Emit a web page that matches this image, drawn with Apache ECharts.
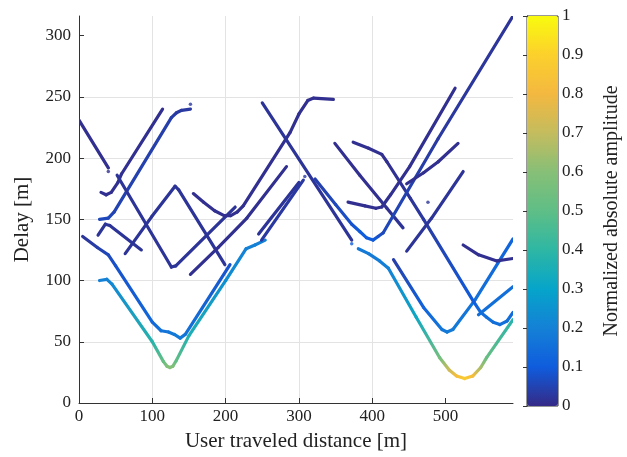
<!DOCTYPE html>
<html>
<head>
<meta charset="utf-8">
<script src="https://cdn.jsdelivr.net/npm/echarts@6/dist/echarts.min.js"></script>
<style>
html, body { margin: 0; padding: 0; background: #fff; }
#chart { width: 627px; height: 457px; }
</style>
</head>
<body>
<div id="chart"></div>
<script>
// tracks: [distance (m), delay (m), normalized amplitude]
var trackA = [[28,100,0.2],[38,101,0.2],[45,97,0.22],[100,50,0.38],[115,34,0.52],[120,30,0.58],[124,29,0.6],[128,30,0.58],[133,35,0.5],[150,55,0.36],[200,100,0.24],[228,126,0.2],[240,129,0.2],[254,133,0.2]];
var trackB = [[5,136,0.02],[25,127,0.04],[40,121,0.06],[50,112,0.08],[100,66,0.13],[112,59,0.16],[122,58,0.17],[130,56,0.18],[138,53,0.18],[145,56,0.16],[206,113,0.08]];
var trackD = [[0,231,0.01],[40,192,0.01]];
var trackE = [[30,172,0.01],[37,170,0.01],[44,172,0.01],[53,180,0.01],[58,187,0.01],[114,240,0.01]];
var trackF = [[28,150,0.06],[40,151,0.06],[48,156,0.05],[126,233,0.04],[133,237,0.03],[140,239,0.03],[152,240,0.03]];
var trackI = [[26,137,0.02],[36,146,0.02],[42,145,0.02],[85,125,0.02]];
var trackG = [[63,122,0.02],[99,152,0.02],[131,177,0.02],[136,174,0.02],[199,113,0.02]];
var trackH = [[52,186,0.02],[126,111,0.02],[132,112,0.02],[213,160,0.02]];
var trackC = [[152,105,0.01],[190,127,0.01],[229,151,0.01],[283,193,0.01]];
var trackJ = [[156,171,0.01],[170,164,0.01],[185,157,0.01],[198,153,0.01],[207,153,0.01],[216,156,0.01],[224,161,0.01],[288,221,0.01],[300,236,0.01],[312,247,0.01],[320,249,0.01],[347,248,0.01]];
var trackL = [[250,245,0.02],[372,133,0.02]];
var trackK1 = [[245,138,0.02],[300,180,0.02]];
var trackK2 = [[249,133,0.03],[306,182,0.03]];
var trackA2 = [[381,126,0.18],[395,122,0.18],[410,116,0.19],[422,110,0.2],[460,70,0.32],[492,37,0.55],[505,27,0.72],[515,22,0.82],[526,20,0.88],[537,22,0.82],[548,29,0.65],[556,37,0.52],[592,68,0.38]];
var trackV2 = [[429,117,0.04],[470,78,0.12],[495,60,0.17],[502,58,0.18],[510,60,0.18],[540,84,0.16],[592,134,0.12]];
var trackW1 = [[374,213,0.01],[395,208,0.01],[413,203,0.01],[420,197,0.01],[452,167,0.02],[470,150,0.03],[538,83,0.1],[548,74,0.14],[556,70,0.15],[565,66,0.15],[574,64,0.15],[584,67,0.15],[592,74,0.14]];
var trackW2 = [[545,72,0.15],[592,95,0.15]];
var trackU3 = [[524,129,0.01],[545,121,0.01],[570,116,0.01],[592,118,0.01]];
var trackP = [[349,212,0.01],[383,186,0.01],[420,159,0.01],[442,143,0.02]];
var trackN1 = [[322,183,0.04],[350,162,0.06],[372,146,0.08],[383,140,0.1],[392,135,0.1],[401,133,0.1],[408,136,0.08],[415,139,0.06],[490,216,0.03],[592,316,0.02]];
var trackN2 = [[367,164,0.01],[390,161,0.01],[405,159,0.01],[413,160,0.01],[425,170,0.01],[451,193,0.01],[513,257,0.01]];
var trackT = [[447,179,0.01],[470,188,0.01],[490,197,0.01],[517,212,0.01]];
var trackY = [[447,124,0.02],[481,151,0.02],[524,189,0.02]];
var dots = [[40,189,0.01],[152,244,0.03],[308,185,0.03],[372,130,0.1],[476,164,0.02]];

var tracks = [trackA, trackB, trackD, trackE, trackF, trackI, trackG, trackH, trackC, trackJ, trackL, trackK1, trackK2,
    trackA2, trackV2, trackW1, trackW2, trackU3, trackP, trackN1, trackN2, trackT, trackY];

var xTicks = [0, 100, 200, 300, 400, 500];
var yTicks = [0, 50, 100, 150, 200, 250, 300];

// parula-like colour stops (0 .. 1 in steps of 0.1)
var parula = ['#352a87', '#0f5cdd', '#1481d6', '#06a4ca', '#2eb7a4', '#5fbe86', '#87bf77', '#c4bc5e', '#f3b840', '#fcd02c', '#f9fb0e'];

function hexRgb(h) {
    return [parseInt(h.substr(1, 2), 16), parseInt(h.substr(3, 2), 16), parseInt(h.substr(5, 2), 16)];
}
function ampColor(a) {
    var t = Math.max(0, Math.min(1, a)) * (parula.length - 1);
    var i = Math.min(Math.floor(t), parula.length - 2);
    var f = t - i;
    var c0 = hexRgb(parula[i]), c1 = hexRgb(parula[i + 1]);
    return 'rgb(' + Math.round(c0[0] + (c1[0] - c0[0]) * f) + ',' + Math.round(c0[1] + (c1[1] - c0[1]) * f) + ',' + Math.round(c0[2] + (c1[2] - c0[2]) * f) + ')';
}

// flatten tracks, 4th value = track index
var flat = [];
tracks.forEach(function (t, k) {
    t.forEach(function (p) { flat.push([p[0], p[1], p[2], k]); });
});

var font = 'Liberation Serif';
var chartDom = document.getElementById('chart');
var myChart = echarts.init(chartDom);
var option;

option = {
    animation: false,
    grid: [
        { left: 79, top: 16, width: 434, height: 390 },
        { left: 527, top: 16, width: 31, height: 390, show: true, borderColor: '#333', borderWidth: 1, backgroundColor: 'transparent' }
    ],
    xAxis: [
        {
            gridIndex: 0, type: 'value', min: 0, max: 592, interval: 100,
            name: 'User traveled distance [m]', nameLocation: 'middle', nameGap: 28,
            nameTextStyle: { fontFamily: font, fontSize: 21, color: '#222' },
            axisLine: { lineStyle: { color: '#333' } },
            axisTick: { inside: true, length: 5, customValues: xTicks, lineStyle: { color: '#333' } },
            axisLabel: { customValues: xTicks, fontFamily: font, fontSize: 17, color: '#222', margin: 5 },
            splitLine: { lineStyle: { color: '#e3e3e3' }, showMaxLine: false }
        },
        { gridIndex: 1, type: 'value', min: 0, max: 1, show: false }
    ],
    yAxis: [
        {
            gridIndex: 0, type: 'value', min: 0, max: 316, interval: 50,
            name: 'Delay [m]', nameLocation: 'middle', nameGap: 46, nameRotate: 90,
            nameTextStyle: { fontFamily: font, fontSize: 21, color: '#222', padding: [0, 20, 0, 0] },
            axisLine: { show: true, lineStyle: { color: '#333' } },
            axisTick: { show: true, inside: true, length: 5, customValues: yTicks, lineStyle: { color: '#333' } },
            axisLabel: { customValues: yTicks, fontFamily: font, fontSize: 17, color: '#222', margin: 8 },
            splitLine: { lineStyle: { color: '#e3e3e3' }, showMaxLine: false }
        },
        {
            gridIndex: 1, type: 'value', min: 0, max: 1, interval: 0.1, position: 'right',
            name: 'Normalized absolute amplitude', nameLocation: 'middle', nameGap: 44, nameRotate: 90,
            nameTextStyle: { fontFamily: font, fontSize: 20, color: '#222' },
            axisLine: { show: true, lineStyle: { color: '#333' } },
            axisTick: { show: true, inside: true, length: 4, lineStyle: { color: '#333' } },
            axisLabel: { fontFamily: font, fontSize: 17, color: '#222', margin: 4 },
            splitLine: { show: false }
        }
    ],
    visualMap: {
        type: 'continuous', min: 0, max: 1, dimension: 2, seriesIndex: 0,
        calculable: false, orient: 'vertical', left: 527, top: 16, itemWidth: 31, itemHeight: 390,
        padding: 0, text: null, showLabel: false, z: 1,
        inRange: { color: parula }
    },
    series: [
        {
            type: 'custom',
            xAxisIndex: 0, yAxisIndex: 0,
            clip: true,
            encode: { x: 0, y: 1 },
            data: flat,
            renderItem: function (params, api) {
                var i = params.dataIndex;
                if (i === 0 || flat[i - 1][3] !== flat[i][3]) return;
                var p0 = api.coord([flat[i - 1][0], flat[i - 1][1]]);
                var p1 = api.coord([api.value(0), api.value(1)]);
                var c0 = ampColor(flat[i - 1][2]), c1 = ampColor(api.value(2));
                return {
                    type: 'line',
                    shape: { x1: p0[0], y1: p0[1], x2: p1[0], y2: p1[1] },
                    style: {
                        stroke: new echarts.graphic.LinearGradient(p0[0], p0[1], p1[0], p1[1], [
                            { offset: 0, color: c0 }, { offset: 1, color: c1 }
                        ], true),
                        lineWidth: 3.2, lineCap: 'round', lineJoin: 'round'
                    }
                };
            }
        },
        {
            type: 'scatter',
            xAxisIndex: 0, yAxisIndex: 0,
            symbolSize: 3.5,
            data: dots.map(function (d) { return { value: [d[0], d[1]], itemStyle: { color: ampColor(d[2]) } }; })
        }
    ]
};

if (option && typeof option === 'object') {
    myChart.setOption(option);
}
</script>
</body>
</html>
